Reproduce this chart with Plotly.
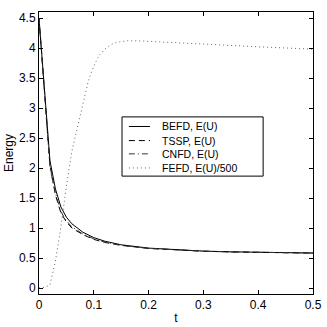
import plotly.graph_objects as go

# time grid for the energy curves
t = [0, 0.02, 0.03, 0.04, 0.05, 0.06, 0.08, 0.1, 0.12, 0.15, 0.2, 0.25, 0.3, 0.35, 0.4, 0.45, 0.5]
befd = [4.5, 2.12, 1.65, 1.35, 1.18, 1.07, 0.93, 0.84, 0.78, 0.72, 0.665, 0.635, 0.615, 0.603, 0.595, 0.588, 0.583]
tssp = [4.5, 2.05, 1.55, 1.25, 1.10, 1.00, 0.89, 0.81, 0.76, 0.71, 0.66, 0.632, 0.613, 0.601, 0.593, 0.587, 0.582]
cnfd = [4.5, 2.00, 1.58, 1.27, 1.12, 1.02, 0.90, 0.82, 0.765, 0.712, 0.66, 0.632, 0.613, 0.601, 0.593, 0.587, 0.582]

# FEFD energy scaled by 1/500
t_fe = [0, 0.01, 0.02, 0.03, 0.04, 0.05, 0.06, 0.07, 0.08, 0.09, 0.1, 0.11, 0.12, 0.13, 0.14, 0.15,
        0.16, 0.18, 0.2, 0.25, 0.3, 0.35, 0.4, 0.45, 0.5]
fefd = [0, 0.01, 0.05, 0.45, 1.02, 1.7, 2.28, 2.66, 3.05, 3.45, 3.7, 3.88, 3.98, 4.05, 4.09, 4.11,
        4.12, 4.12, 4.11, 4.09, 4.07, 4.04, 4.02, 4.0, 3.98]

names = ["BEFD, E(U)", "TSSP, E(U)", "CNFD, E(U)", "FEFD, E(U)/500"]
styles = [("black", "solid"), ("black", "6px,4px"), ("#333333", "6px,3px,1px,3px"), ("#666666", "1px,3px")]

font = "Liberation Sans, Arial, sans-serif"

fig = go.Figure()
for name, (xs, ys), (col, dash) in zip(names, [(t, befd), (t, tssp), (t, cnfd), (t_fe, fefd)], styles):
    fig.add_trace(go.Scatter(x=xs, y=ys, mode="lines", name=name,
                             line=dict(color=col, width=1, dash=dash)))

# MATLAB-like legend box drawn by hand (paper coords)
fig.add_shape(type="rect", xref="paper", yref="paper", x0=0.303, x1=0.818, y0=0.418, y1=0.628,
              line=dict(color="black", width=1), fillcolor="white", layer="above")
row_y = [0.594, 0.544, 0.497, 0.447]
for name, (col, dash), yy in zip(names, styles, row_y):
    fig.add_shape(type="line", xref="paper", yref="paper", x0=0.328, x1=0.405, y0=yy, y1=yy,
                  line=dict(color=col, width=1, dash=dash), layer="above")
    fig.add_annotation(text=name, xref="paper", yref="paper", x=0.44, y=yy, xanchor="left",
                       yanchor="middle", showarrow=False, font=dict(family=font, size=10.5))

axis_common = dict(showgrid=False, zeroline=False, showline=True, linecolor="black", linewidth=1,
                   mirror="ticks", ticks="inside", ticklen=4, tickcolor="black", automargin=False,
                   tickfont=dict(family=font, size=12, color="black"))

fig.update_layout(
    width=327, height=327,
    margin=dict(l=39, r=14, t=12, b=33),
    paper_bgcolor="white", plot_bgcolor="white",
    font=dict(family=font, size=12, color="black"),
    showlegend=False,
    xaxis=dict(range=[0, 0.5], tickvals=[0, 0.1, 0.2, 0.3, 0.4, 0.5],
               ticktext=["0", "0.1", "0.2", "0.3", "0.4", "0.5"],
               title=dict(text="t", standoff=2, font=dict(size=12)), **axis_common),
    yaxis=dict(range=[-0.1, 4.6], tickvals=[0, 0.5, 1, 1.5, 2, 2.5, 3, 3.5, 4, 4.5],
               ticktext=["0", "0.5", "1", "1.5", "2", "2.5", "3", "3.5", "4", "4.5"],
               title=dict(text="Energy", standoff=2, font=dict(size=12)), **axis_common),
)

fig.write_html("out.html", config={"displayModeBar": False},
               post_script="document.body.style.margin='0';")
